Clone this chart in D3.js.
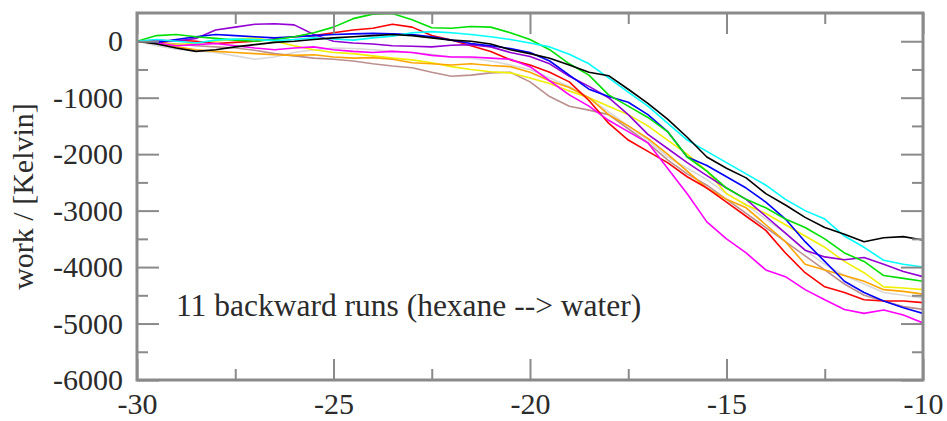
<!DOCTYPE html>
<html>
<head>
<meta charset="utf-8">
<script src="https://cdn.jsdelivr.net/npm/d3@7/dist/d3.min.js"></script>
<style>
html,body{margin:0;padding:0;background:#fff;}
svg{display:block;}
text{font-family:"Liberation Serif","Times New Roman",serif;fill:#2b2b2b;}
</style>
</head>
<body>
<svg id="chart" width="947" height="421"></svg>
<script>
// x positions (lambda coordinate) shared by all runs
const xs = [-30,-29.5,-29,-28.5,-28,-27.5,-27,-26.5,-26,-25.5,-25,-24.5,-24,-23.5,-23,-22.5,-22,-21.5,-21,-20.5,-20,
            -19.5,-19,-18.5,-18,-17.5,-17,-16.5,-16,-15.5,-15,-14.5,-14,-13.5,-13,-12.5,-12,-11.5,-11,-10.5,-10];

const runNames = ["black","red","green","blue","yellow","brown","grey","violet","cyan","magenta","orange"];
const runColors = ["#000000","#ff0000","#00e000","#0000ff","#f0f000","#bc8f8f","#d8d8d8","#9400d3","#00ffff","#ff00ff","#ffa500"];

const blackRun = [0,-50,-120,-180,-150,-100,-60,-20,0,30,60,80,100,120,100,60,20,0,-50,-150,-220,
  -300,-420,-550,-610,-850,-1100,-1380,-1700,-2050,-2250,-2420,-2700,-2900,-3120,-3300,-3420,-3550,-3480,-3460,-3520];
const redRun = [0,-30,20,0,-40,-20,0,40,80,100,150,200,230,300,250,100,20,-80,-180,-330,-420,
  -550,-720,-1050,-1450,-1750,-1950,-2150,-2400,-2600,-2850,-3100,-3350,-3750,-4100,-4350,-4450,-4580,-4600,-4600,-4630];
const greenRun = [0,100,120,80,50,20,0,30,80,150,250,400,480,490,380,240,230,260,250,150,30,
  -150,-400,-600,-950,-1150,-1350,-1600,-2050,-2300,-2600,-2800,-2950,-3150,-3300,-3500,-3750,-3900,-4150,-4200,-4250];
const blueRun = [0,-20,30,80,120,100,80,60,80,100,120,130,140,130,120,80,20,-40,-80,-130,-200,
  -350,-600,-850,-980,-1080,-1300,-1600,-2050,-2200,-2400,-2600,-2850,-3150,-3550,-3900,-4250,-4450,-4600,-4720,-4820];
const yellowRun = [0,-30,-60,-40,0,40,60,0,-80,-150,-200,-220,-260,-300,-330,-380,-450,-500,-540,-560,-650,
  -750,-880,-1000,-1150,-1300,-1500,-1750,-2000,-2300,-2700,-2900,-3050,-3250,-3450,-3650,-3900,-4100,-4350,-4370,-4400];
const brownRun = [0,-20,-50,-80,-100,-120,-160,-220,-260,-300,-320,-350,-400,-440,-470,-550,-620,-600,-560,-550,-720,
  -980,-1150,-1220,-1300,-1550,-1800,-2100,-2350,-2550,-2800,-3050,-3300,-3550,-3800,-4050,-4300,-4500,-4600,-4700,-4750];
const greyRun = [0,-80,-140,-170,-200,-260,-320,-280,-200,-150,-120,-130,-150,-180,-200,-230,-280,-300,-350,-420,-500,
  -650,-800,-1000,-1250,-1500,-1750,-2050,-2250,-2450,-2700,-2900,-3150,-3400,-3700,-3950,-4150,-4300,-4450,-4500,-4550];
const violetRun = [0,20,0,50,200,250,300,310,290,120,0,-30,-50,-80,-90,-100,-70,-60,-100,-200,-270,
  -400,-620,-800,-1000,-1300,-1650,-1900,-2150,-2380,-2600,-2800,-3100,-3400,-3700,-3820,-3870,-3830,-3950,-4080,-4170];
const cyanRun = [0,30,0,-30,20,40,30,10,30,60,40,20,60,90,150,170,150,120,80,30,-30,
  -100,-230,-400,-650,-900,-1150,-1450,-1750,-1950,-2150,-2350,-2550,-2800,-3000,-3150,-3450,-3650,-3880,-3950,-4000];
const magentaRun = [0,-30,-80,-60,-40,-80,-120,-150,-120,-100,-150,-180,-200,-180,-200,-250,-280,-280,-300,-320,-450,
  -700,-950,-1150,-1400,-1600,-1800,-2250,-2700,-3200,-3500,-3750,-4050,-4170,-4400,-4580,-4750,-4820,-4760,-4850,-4990];
const orangeRun = [0,-40,-100,-150,-180,-200,-220,-240,-250,-240,-280,-300,-290,-320,-380,-400,-420,-400,-430,-450,-550,
  -700,-820,-1000,-1300,-1500,-1720,-2000,-2300,-2600,-2800,-2950,-3250,-3550,-3950,-4050,-4150,-4250,-4400,-4430,-4480];

const runs = [blackRun, redRun, greenRun, blueRun, yellowRun, brownRun, greyRun, violetRun, cyanRun, magentaRun, orangeRun];
// draw order (back to front)
const drawOrder = [6,5,4,10,1,9,7,3,2,8,0];

const xMajor = [-30,-25,-20,-15,-10];
const xMinor = [-27.5,-22.5,-17.5,-12.5];
const yMajor = [0,-1000,-2000,-3000,-4000,-5000,-6000];
const yMinor = [-500,-1500,-2500,-3500,-4500,-5500];

const yTitle = "work / [Kelvin]";
const note = "11 backward runs (hexane --> water)";

const svg = d3.select("#chart");
const L = 137, R = 923, T = 13, B = 380;
const x = d3.scaleLinear().domain([-30,-10]).range([L,R]);
const y = d3.scaleLinear().domain([-6000,500]).range([B,T]);

const frameColor = "#8a8a8a";
const fmt = d => String(d);   // plain hyphen-minus like the original

svg.append("clipPath").attr("id","clip").append("rect")
  .attr("x",L).attr("y",T).attr("width",R-L).attr("height",B-T);

const line = d3.line().x((d,i)=>x(xs[i])).y(d=>y(d));
const g = svg.append("g").attr("clip-path","url(#clip)");
drawOrder.forEach(k=>{
  g.append("path").datum(runs[k])
    .attr("d",line)
    .attr("fill","none")
    .attr("stroke",runColors[k])
    .attr("stroke-width",1.6)
    .attr("stroke-linejoin","round");
});

const fs = 30;
function styleAxis(sel){
  sel.select(".domain").remove();
  sel.selectAll(".tick line").attr("stroke",frameColor).attr("stroke-width",2);
}
const bottom = svg.append("g").attr("transform",`translate(0,${B})`)
  .call(d3.axisBottom(x).tickValues(xMajor).tickSize(-21).tickFormat(fmt));
styleAxis(bottom);
bottom.selectAll("text").attr("font-size",fs).attr("fill","#2b2b2b")
  .attr("font-family","Liberation Serif, serif").attr("dy","0.71em").attr("y",13);
svg.append("g").attr("transform",`translate(0,${B})`)
  .call(d3.axisBottom(x).tickValues(xMinor).tickSize(-11).tickFormat(""))
  .call(styleAxis);

svg.append("g").attr("transform",`translate(0,${T})`)
  .call(d3.axisTop(x).tickValues(xMajor).tickSize(-21).tickFormat(""))
  .call(styleAxis);
svg.append("g").attr("transform",`translate(0,${T})`)
  .call(d3.axisTop(x).tickValues(xMinor).tickSize(-11).tickFormat(""))
  .call(styleAxis);

const left = svg.append("g").attr("transform",`translate(${L},0)`)
  .call(d3.axisLeft(y).tickValues(yMajor).tickSize(-22).tickFormat(fmt));
styleAxis(left);
left.selectAll("text").attr("font-size",fs).attr("fill","#2b2b2b")
  .attr("font-family","Liberation Serif, serif").attr("x",-14);
svg.append("g").attr("transform",`translate(${L},0)`)
  .call(d3.axisLeft(y).tickValues(yMinor).tickSize(-11).tickFormat(""))
  .call(styleAxis);

svg.append("g").attr("transform",`translate(${R},0)`)
  .call(d3.axisRight(y).tickValues(yMajor).tickSize(-22).tickFormat(""))
  .call(styleAxis);
svg.append("g").attr("transform",`translate(${R},0)`)
  .call(d3.axisRight(y).tickValues(yMinor).tickSize(-11).tickFormat(""))
  .call(styleAxis);

svg.append("rect").attr("x",L).attr("y",T).attr("width",R-L).attr("height",B-T)
  .attr("fill","none").attr("stroke",frameColor).attr("stroke-width",3);

svg.append("text")
  .attr("transform",`translate(33,${(T+B)/2}) rotate(-90)`)
  .attr("text-anchor","middle")
  .attr("font-size",fs)
  .text(yTitle);

svg.append("text")
  .attr("x",176).attr("y",316)
  .attr("font-size",31.5)
  .text(note);
</script>
</body>
</html>
